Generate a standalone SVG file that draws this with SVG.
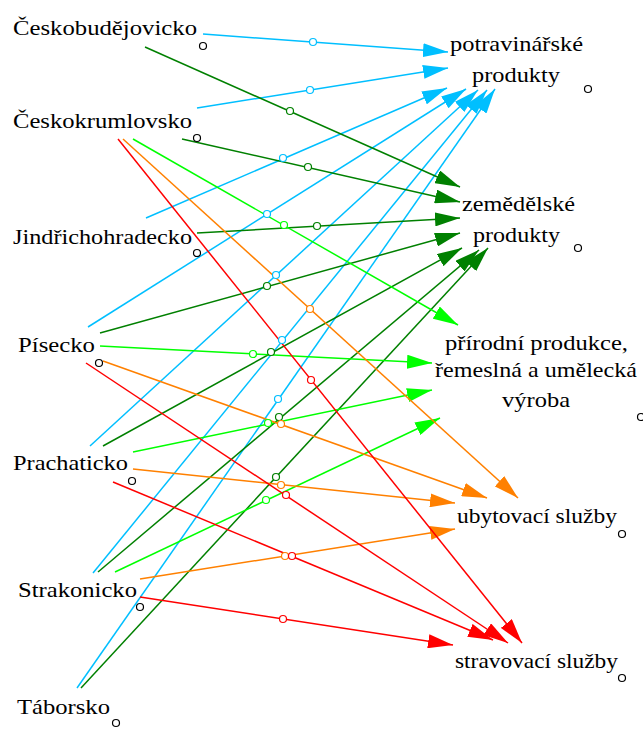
<svg xmlns="http://www.w3.org/2000/svg" width="643" height="729" viewBox="0 0 643 729" font-family="Liberation Serif, Times New Roman, Times, Tinos, Noto Serif, DejaVu Serif, serif">
  <defs>
    <style>
      .lbl{font-family:"Liberation Serif","Times New Roman",Times,Tinos,"Noto Serif","DejaVu Serif",serif;font-size:22px;fill:#000}
      .e{fill:none;stroke-width:1.5}
      .m{fill:#fff;stroke-width:1.2}
      .pin{fill:none;stroke:#000;stroke-width:1.2}
      .cy{stroke:#00bfff}
      .dg{stroke:#008000}
      .lg{stroke:#00ff00}
      .or{stroke:#ff8000}
      .rd{stroke:#ff0000}
    </style>
    <marker id="a-cy" markerUnits="userSpaceOnUse" markerWidth="25" markerHeight="14" viewBox="0 0 25 14" refX="25" refY="7" orient="auto"><path d="M0,0L25,7L0,14z" fill="#00bfff"/></marker>
    <marker id="a-dg" markerUnits="userSpaceOnUse" markerWidth="25" markerHeight="14" viewBox="0 0 25 14" refX="25" refY="7" orient="auto"><path d="M0,0L25,7L0,14z" fill="#008000"/></marker>
    <marker id="a-lg" markerUnits="userSpaceOnUse" markerWidth="25" markerHeight="14" viewBox="0 0 25 14" refX="25" refY="7" orient="auto"><path d="M0,0L25,7L0,14z" fill="#00ff00"/></marker>
    <marker id="a-or" markerUnits="userSpaceOnUse" markerWidth="25" markerHeight="14" viewBox="0 0 25 14" refX="25" refY="7" orient="auto"><path d="M0,0L25,7L0,14z" fill="#ff8000"/></marker>
    <marker id="a-rd" markerUnits="userSpaceOnUse" markerWidth="25" markerHeight="14" viewBox="0 0 25 14" refX="25" refY="7" orient="auto"><path d="M0,0L25,7L0,14z" fill="#ff0000"/></marker>
  </defs>
  <rect width="643" height="729" fill="#fff"/>

  <g id="connectors">
    <!-- to potravinářské produkty -->
    <g class="e cy" marker-end="url(#a-cy)">
      <line x1="203" y1="34" x2="448" y2="52"/>
      <line x1="197" y1="108" x2="448" y2="68"/>
      <line x1="146" y1="218" x2="447" y2="88"/>
      <line x1="88" y1="327" x2="466" y2="89"/>
      <line x1="90" y1="446" x2="478" y2="90"/>
      <line x1="93" y1="573" x2="487" y2="90"/>
      <line x1="77" y1="688" x2="495" y2="89"/>
    </g>
    <!-- to zemědělské produkty -->
    <g class="e dg" marker-end="url(#a-dg)">
      <line x1="145" y1="47" x2="460" y2="187"/>
      <line x1="182" y1="139" x2="460" y2="202"/>
      <line x1="197" y1="233" x2="460" y2="218"/>
      <line x1="100" y1="333" x2="460" y2="233"/>
      <line x1="103" y1="446" x2="462" y2="248"/>
      <line x1="98" y1="572" x2="479" y2="250"/>
      <line x1="81" y1="688" x2="488" y2="248"/>
    </g>
    <!-- to přírodní produkce -->
    <g class="e lg" marker-end="url(#a-lg)">
      <line x1="133" y1="139" x2="458" y2="325"/>
      <line x1="100" y1="346" x2="432" y2="363"/>
      <line x1="133" y1="452" x2="432" y2="390"/>
      <line x1="115" y1="572" x2="440" y2="418"/>
    </g>
    <!-- to ubytovací služby -->
    <g class="e or" marker-end="url(#a-or)">
      <line x1="123" y1="139" x2="518" y2="498"/>
      <line x1="103" y1="361" x2="487" y2="498"/>
      <line x1="133" y1="469" x2="455" y2="503"/>
      <line x1="140" y1="579" x2="455" y2="529"/>
    </g>
    <!-- to stravovací služby -->
    <g class="e rd" marker-end="url(#a-rd)">
      <line x1="118" y1="139" x2="522" y2="643"/>
      <line x1="86" y1="363" x2="508" y2="643"/>
      <line x1="113" y1="482" x2="493" y2="640"/>
      <line x1="140" y1="597" x2="453" y2="645"/>
    </g>

    <!-- midpoint handles -->
    <g class="m cy">
      <circle cx="313" cy="42" r="3.5"/>
      <circle cx="310" cy="90" r="3.5"/>
      <circle cx="283" cy="158" r="3.5"/>
      <circle cx="267" cy="214" r="3.5"/>
      <circle cx="276" cy="275" r="3.5"/>
      <circle cx="282" cy="340" r="3.5"/>
      <circle cx="278" cy="399" r="3.5"/>
    </g>
    <g class="m dg">
      <circle cx="290" cy="111" r="3.5"/>
      <circle cx="308" cy="167" r="3.5"/>
      <circle cx="317" cy="226" r="3.5"/>
      <circle cx="267" cy="286" r="3.5"/>
      <circle cx="271" cy="352" r="3.5"/>
      <circle cx="279" cy="417" r="3.5"/>
      <circle cx="276" cy="477" r="3.5"/>
    </g>
    <g class="m lg">
      <circle cx="284" cy="225" r="3.5"/>
      <circle cx="253" cy="354" r="3.5"/>
      <circle cx="268" cy="423" r="3.5"/>
      <circle cx="266" cy="500" r="3.5"/>
    </g>
    <g class="m or">
      <circle cx="310" cy="309" r="3.5"/>
      <circle cx="281" cy="424" r="3.5"/>
      <circle cx="281" cy="485" r="3.5"/>
      <circle cx="285" cy="556" r="3.5"/>
    </g>
    <g class="m rd">
      <circle cx="311" cy="380" r="3.5"/>
      <circle cx="286" cy="495" r="3.5"/>
      <circle cx="292" cy="556" r="3.5"/>
      <circle cx="283" cy="619" r="3.5"/>
    </g>
  </g>

  <!-- source regions -->
  <g id="n-ceskobudejovicko">
    <text class="lbl" font-family="Liberation Serif" x="13" y="35" textLength="184" lengthAdjust="spacingAndGlyphs">Českobudějovicko</text>
    <circle class="pin" cx="203" cy="46" r="3.5"/>
  </g>
  <g id="n-ceskokrumlovsko">
    <text class="lbl" font-family="Liberation Serif" x="13" y="128" textLength="179" lengthAdjust="spacingAndGlyphs">Českokrumlovsko</text>
    <circle class="pin" cx="197" cy="138" r="3.5"/>
  </g>
  <g id="n-jindrichohradecko">
    <text class="lbl" font-family="Liberation Serif" x="13" y="244" textLength="179" lengthAdjust="spacingAndGlyphs">Jindřichohradecko</text>
    <circle class="pin" cx="197" cy="253" r="3.5"/>
  </g>
  <g id="n-pisecko">
    <text class="lbl" font-family="Liberation Serif" x="18" y="352" textLength="77" lengthAdjust="spacingAndGlyphs">Písecko</text>
    <circle class="pin" cx="99" cy="363" r="3.5"/>
  </g>
  <g id="n-prachaticko">
    <text class="lbl" font-family="Liberation Serif" x="13" y="470" textLength="115" lengthAdjust="spacingAndGlyphs">Prachaticko</text>
    <circle class="pin" cx="132" cy="481" r="3.5"/>
  </g>
  <g id="n-strakonicko">
    <text class="lbl" font-family="Liberation Serif" x="18" y="597" textLength="119" lengthAdjust="spacingAndGlyphs">Strakonicko</text>
    <circle class="pin" cx="140" cy="607" r="3.5"/>
  </g>
  <g id="n-taborsko">
    <text class="lbl" font-family="Liberation Serif" x="17" y="714" textLength="93" lengthAdjust="spacingAndGlyphs">Táborsko</text>
    <circle class="pin" cx="116" cy="723" r="3.5"/>
  </g>

  <!-- product categories -->
  <g id="n-potravinarske">
    <text class="lbl" font-family="Liberation Serif" x="450" y="51" textLength="133" lengthAdjust="spacingAndGlyphs">potravinářské</text>
    <text class="lbl" font-family="Liberation Serif" x="472" y="82" textLength="88" lengthAdjust="spacingAndGlyphs">produkty</text>
    <circle class="pin" cx="588" cy="89" r="3.5"/>
  </g>
  <g id="n-zemedelske">
    <text class="lbl" font-family="Liberation Serif" x="462" y="211" textLength="113" lengthAdjust="spacingAndGlyphs">zemědělské</text>
    <text class="lbl" font-family="Liberation Serif" x="473" y="242" textLength="87" lengthAdjust="spacingAndGlyphs">produkty</text>
    <circle class="pin" cx="578" cy="248" r="3.5"/>
  </g>
  <g id="n-prirodni">
    <text class="lbl" font-family="Liberation Serif" x="445" y="350" textLength="183" lengthAdjust="spacingAndGlyphs">přírodní produkce,</text>
    <text class="lbl" font-family="Liberation Serif" x="435" y="377" textLength="202" lengthAdjust="spacingAndGlyphs">řemeslná a umělecká</text>
    <text class="lbl" font-family="Liberation Serif" x="502" y="407" textLength="68" lengthAdjust="spacingAndGlyphs">výroba</text>
    <circle class="pin" cx="641" cy="417" r="3.5"/>
  </g>
  <g id="n-ubytovaci">
    <text class="lbl" font-family="Liberation Serif" x="457" y="523" textLength="160" lengthAdjust="spacingAndGlyphs">ubytovací služby</text>
    <circle class="pin" cx="622" cy="534" r="3.5"/>
  </g>
  <g id="n-stravovaci">
    <text class="lbl" font-family="Liberation Serif" x="455" y="668" textLength="163" lengthAdjust="spacingAndGlyphs">stravovací služby</text>
    <circle class="pin" cx="622" cy="678" r="3.5"/>
  </g>
</svg>
